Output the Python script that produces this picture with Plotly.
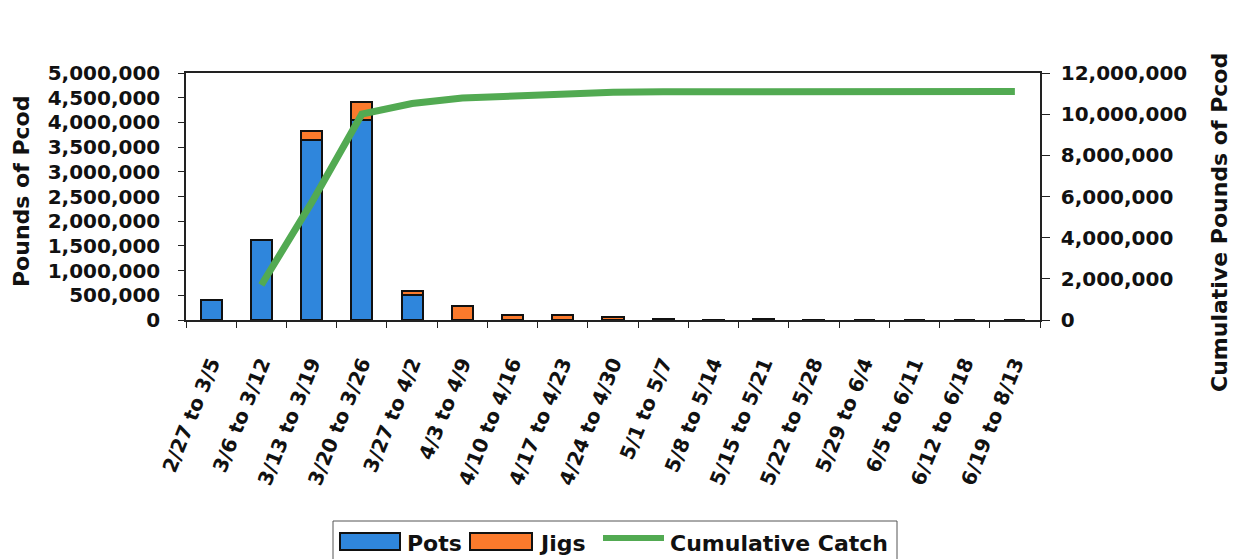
import plotly.graph_objects as go

# Weekly Pacific cod landings by gear, with the running season total
weeks = [
    "2/27 to 3/5", "3/6 to 3/12", "3/13 to 3/19", "3/20 to 3/26", "3/27 to 4/2",
    "4/3 to 4/9", "4/10 to 4/16", "4/17 to 4/23", "4/24 to 4/30", "5/1 to 5/7",
    "5/8 to 5/14", "5/15 to 5/21", "5/22 to 5/28", "5/29 to 6/4", "6/5 to 6/11",
    "6/12 to 6/18", "6/19 to 8/13",
]
pots = [400000, 1620000, 3650000, 4050000, 500000, 0, 0, 0, 0, 0,
        0, 0, 0, 0, 0, 0, 0]
jigs = [0, 0, 180000, 370000, 90000, 275000, 105000, 105000, 70000, 28000,
        4000, 12000, 3000, 0, 0, 0, 0]
cumulative = [None, 1700000, 5700000, 10000000, 10520000, 10780000, 10900000,
              11000000, 11060000, 11090000, 11090000, 11100000, 11100000,
              11100000, 11100000, 11100000, 11100000]

left_ticks = list(range(0, 5000001, 500000))
right_ticks = list(range(0, 12000001, 2000000))

FONT = "DejaVu Sans"
POTS_COLOR = "#2f86dc"
JIGS_COLOR = "#fb7a2c"
LINE_COLOR = "#52aa52"
EDGE = "#111111"

# plot area in pixels: x 186..1040, y 73..320
L, R, T, B = 186, 1040, 73, 320
W, H = R - L, B - T


def px(x):
    return (x - L) / W


def py(y):
    return (B - y) / H


fig = go.Figure()
fig.add_trace(go.Bar(
    x=weeks, y=pots, name="Pots",
    marker=dict(color=POTS_COLOR, line=dict(color=EDGE, width=2)),
))
fig.add_trace(go.Bar(
    x=weeks, y=jigs, name="Jigs",
    marker=dict(color=JIGS_COLOR, line=dict(color=EDGE, width=2)),
))
fig.add_trace(go.Scatter(
    x=weeks, y=cumulative, name="Cumulative Catch", yaxis="y2",
    mode="lines", line=dict(color=LINE_COLOR, width=7),
    connectgaps=False,
))

# legend box drawn below the axis labels
shapes = [
    dict(type="rect", xref="paper", yref="paper",
         x0=px(333), x1=px(897), y0=py(575), y1=py(521),
         line=dict(color="#555555", width=1), fillcolor="white", layer="below"),
    dict(type="rect", xref="paper", yref="paper",
         x0=px(340), x1=px(400), y0=py(550), y1=py(533),
         line=dict(color=EDGE, width=2), fillcolor=POTS_COLOR),
    dict(type="rect", xref="paper", yref="paper",
         x0=px(470), x1=px(532), y0=py(550), y1=py(533),
         line=dict(color=EDGE, width=2), fillcolor=JIGS_COLOR),
    dict(type="line", xref="paper", yref="paper",
         x0=px(603), x1=px(664), y0=py(538), y1=py(538),
         line=dict(color=LINE_COLOR, width=6)),
]
legend_labels = [("Pots", 405), ("Jigs", 537), ("Cumulative Catch", 668)]

annotations = [
    dict(text="Pounds of Pcod", textangle=-90, xref="paper", yref="paper",
         x=px(21), y=py(192), xanchor="center", yanchor="middle",
         showarrow=False, font=dict(family=FONT, size=22, weight="bold")),
    dict(text="Cumulative Pounds of Pcod", textangle=-90, xref="paper",
         yref="paper", x=px(1219), y=py(223), xanchor="center",
         yanchor="middle", showarrow=False,
         font=dict(family=FONT, size=22, weight="bold")),
]
for label, x0 in legend_labels:
    annotations.append(dict(
        text=label, xref="paper", yref="paper", x=px(x0), y=py(543),
        xanchor="left", yanchor="middle", showarrow=False,
        font=dict(family=FONT, size=22, weight="bold", color=EDGE),
    ))

fig.update_layout(
    width=1252, height=559,
    margin=dict(l=L, r=1252 - R, t=T, b=559 - B, autoexpand=False),
    paper_bgcolor="white", plot_bgcolor="white",
    font=dict(family=FONT, size=20, color=EDGE, weight="bold"),
    barmode="stack", bargap=0.58,
    showlegend=False,
    xaxis=dict(
        type="category", tickangle=-68, tickson="boundaries",
        ticks="outside", ticklen=6, tickcolor="#222222",
        showline=True, linecolor="#222222", linewidth=1.5, mirror=True,
        showgrid=False, ticklabelstandoff=22, automargin=False,
        tickfont=dict(family=FONT, size=20, weight="bold"),
    ),
    yaxis=dict(
        range=[0, 5000000], tickvals=left_ticks, tickformat=",",
        ticks="outside", ticklen=6, tickcolor="#222222",
        showline=True, linecolor="#222222", linewidth=1.5,
        showgrid=False, zeroline=False, ticklabelstandoff=14,
        automargin=False,
        tickfont=dict(family=FONT, size=20, weight="bold"),
    ),
    yaxis2=dict(
        range=[0, 12000000], tickvals=right_ticks, tickformat=",",
        overlaying="y", side="right",
        ticks="outside", ticklen=8, tickcolor="#222222",
        showline=True, linecolor="#222222", linewidth=1.5,
        showgrid=False, zeroline=False, ticklabelstandoff=7,
        automargin=False,
        tickfont=dict(family=FONT, size=20, weight="bold"),
    ),
    shapes=shapes,
    annotations=annotations,
)

fig.write_html("out.html")
